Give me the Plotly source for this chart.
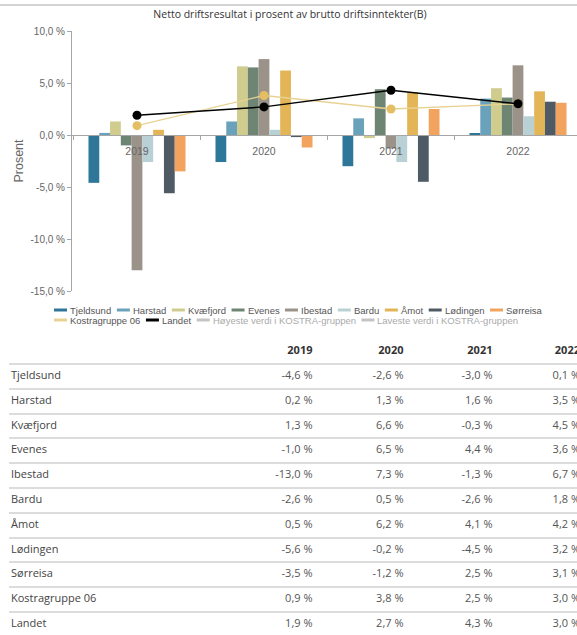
import plotly.graph_objects as go

W, H = 577, 635

# ---- data -------------------------------------------------------------
years = ["2019", "2020", "2021", "2022"]

tjeldsund = [-4.6, -2.6, -3.0, 0.1]
harstad = [0.2, 1.3, 1.6, 3.5]
kvaefjord = [1.3, 6.6, -0.3, 4.5]
evenes = [-1.0, 6.5, 4.4, 3.6]
ibestad = [-13.0, 7.3, -1.3, 6.7]
bardu = [-2.6, 0.5, -2.6, 1.8]
amot = [0.5, 6.2, 4.1, 4.2]
lodingen = [-5.6, -0.2, -4.5, 3.2]
sorreisa = [-3.5, -1.2, 2.5, 3.1]
kostragruppe_06 = [0.9, 3.8, 2.5, 3.0]
landet = [1.9, 2.7, 4.3, 3.0]

kommune_names = ["Tjeldsund", "Harstad", "Kvæfjord", "Evenes", "Ibestad",
                 "Bardu", "Åmot", "Lødingen", "Sørreisa"]
kommune_values = [tjeldsund, harstad, kvaefjord, evenes, ibestad,
                  bardu, amot, lodingen, sorreisa]
kommune_colors = ["#2e7798", "#6ba2bb", "#cfcc8e", "#6e8573", "#9b938a",
                  "#b9d0d4", "#e3b556", "#4e5b64", "#f2a45f"]

line_names = ["Kostragruppe 06", "Landet"]
line_values = [kostragruppe_06, landet]
line_colors = ["#e8d293", "#000000"]
marker_colors = ["#e4be62", "#000000"]

hidden_names = ["Høyeste verdi i KOSTRA-gruppen", "Laveste verdi i KOSTRA-gruppen"]

y_ticks = [10, 5, 0, -5, -10, -15]
y_tick_labels = ["10,0 %", "5,0 %", "0,0 %", "-5,0 %", "-10,0 %", "-15,0 %"]

title_text = "Netto driftsresultat i prosent av brutto driftsinntekter(B)"

# ---- helpers ----------------------------------------------------------
def px_x(x):
    return x / W


def px_y(y):
    return 1 - y / H


def fmt(v):
    return f"{v:.1f} %".replace(".", ",")


# Arial / Liberation Sans advance widths (per 1000 em)
_AW = {" ": 278, "-": 333, "A": 667, "B": 667, "E": 667, "H": 722, "I": 278,
       "K": 667, "L": 556, "O": 778, "R": 722, "S": 667, "T": 611, "Å": 667,
       "a": 556, "b": 556, "d": 556, "e": 556, "f": 278, "g": 556, "i": 222,
       "j": 222, "l": 222, "m": 833, "n": 556, "o": 556, "p": 556, "r": 333,
       "s": 500, "t": 278, "u": 556, "v": 500, "y": 500, "æ": 889, "ø": 611}


def text_width(s, size):
    return sum(_AW.get(c, 556) for c in s) / 1000 * size


CHART_FONT = "Liberation Sans, Arial, sans-serif"
TABLE_FONT = "Open Sans, sans-serif"

# ---- chart geometry ---------------------------------------------------
plot_left, plot_top, plot_bottom = 72, 31, 291
cat0_px, cat_step = 137, 127
y_min, y_max = -15, 10
y_dom = [px_y(plot_bottom), px_y(plot_top)]
x_range = [(plot_left - cat0_px) / cat_step, (W - cat0_px) / cat_step]
zero_pos = y_dom[0] + (0 - y_min) / (y_max - y_min) * (y_dom[1] - y_dom[0])

fig = go.Figure()

for name, vals, col in zip(kommune_names, kommune_values, kommune_colors):
    fig.add_trace(go.Bar(x=years, y=vals, name=name, marker_color=col,
                         marker_line_width=0, showlegend=False,
                         xaxis="x", yaxis="y"))

for name, vals, lc, mc in zip(line_names, line_values, line_colors, marker_colors):
    fig.add_trace(go.Scatter(x=years, y=vals, name=name, mode="lines+markers",
                             line=dict(color=lc, width=1.4),
                             marker=dict(color=mc, size=9),
                             showlegend=False, xaxis="x", yaxis="y"))

# ---- table ------------------------------------------------------------
row_names = kommune_names + line_names
row_values = kommune_values + line_values

# table columns are placed on a pixel-scaled axis (x2 = pixels from left)
col_right_px = [312.5, 403.5, 492.5, 580.0]   # right edge of each year column
row_px0, row_step = 351.5, 24.8               # centre of row k = row_px0 + k*row_step
table_left, label_left, table_top = 9, 11, 320

y2_range = [(H - row_px0) / row_step, (table_top - row_px0) / row_step]

fig.add_trace(go.Scatter(
    x=col_right_px, y=[0] * len(years), text=years, mode="text",
    textposition="middle left",
    textfont=dict(family=TABLE_FONT, size=11, color="#333333", weight="bold"),
    showlegend=False, hoverinfo="skip", xaxis="x2", yaxis="y2"))

fig.add_trace(go.Scatter(
    x=[label_left] * len(row_names), y=list(range(1, len(row_names) + 1)),
    text=row_names, mode="text", textposition="middle right",
    textfont=dict(family=TABLE_FONT, size=11, color="#444444"),
    showlegend=False, hoverinfo="skip", xaxis="x2", yaxis="y2"))

cell_x, cell_y, cell_t = [], [], []
for k, vals in enumerate(row_values, start=1):
    for xc, v in zip(col_right_px, vals):
        cell_x.append(xc)
        cell_y.append(k)
        cell_t.append(fmt(v))

fig.add_trace(go.Scatter(
    x=cell_x, y=cell_y, text=cell_t, mode="text", textposition="middle left",
    textfont=dict(family=TABLE_FONT, size=11, color="#555555"),
    showlegend=False, hoverinfo="skip", xaxis="x2", yaxis="y2"))

# ---- custom legend ----------------------------------------------------
LEG_SIZE, SYM_LEN, SYM_GAP, ITEM_GAP = 9.5, 13, 3, 5.7
legend_rows = [
    (310, [(n, c, False) for n, c in zip(kommune_names, kommune_colors)]),
    (320, [(line_names[0], line_colors[0], False), (line_names[1], line_colors[1], False)]
          + [(n, "#c4c4c4", True) for n in hidden_names]),
]
shapes, annotations = [], []
for y_px, items in legend_rows:
    x_px = 54
    for name, col, hidden in items:
        shapes.append(dict(type="line", xref="paper", yref="paper",
                           x0=px_x(x_px), x1=px_x(x_px + SYM_LEN),
                           y0=px_y(y_px), y1=px_y(y_px),
                           line=dict(color=col, width=3)))
        annotations.append(dict(text=name, xref="paper", yref="paper",
                                x=px_x(x_px + SYM_LEN + SYM_GAP), y=px_y(y_px),
                                xanchor="left", yanchor="middle", showarrow=False,
                                borderpad=0, borderwidth=0,
                                font=dict(family=CHART_FONT, size=LEG_SIZE,
                                          color="#aaaaaa" if hidden else "#555555")))
        x_px += SYM_LEN + SYM_GAP + text_width(name, LEG_SIZE) + ITEM_GAP

# top rule
shapes.append(dict(type="line", xref="paper", yref="paper", x0=0, x1=1,
                   y0=px_y(5), y1=px_y(5), line=dict(color="#aaaaaa", width=1)))

fig.update_layout(
    width=W, height=H,
    margin=dict(l=0, r=0, t=0, b=0),
    paper_bgcolor="white", plot_bgcolor="white",
    barmode="group", bargap=0.236, bargroupgap=0.0,
    showlegend=False,
    title=dict(text=title_text, x=290 / W, y=px_y(14), xanchor="center",
               yanchor="middle", xref="paper", yref="paper",
               font=dict(family=TABLE_FONT, size=10.5, color="#333333")),
    xaxis=dict(type="category", domain=[px_x(plot_left), 1], range=x_range,
               anchor="free", position=zero_pos,
               showline=True, linecolor="#a6a6a6", linewidth=1,
               ticks="outside", tickson="boundaries", ticklen=4, tickcolor="#a6a6a6",
               ticklabelstandoff=6,
               tickfont=dict(family=CHART_FONT, size=10.5, color="#666666"),
               showgrid=False, zeroline=False, automargin=False, fixedrange=True),
    yaxis=dict(domain=y_dom, range=[y_min, y_max], anchor="x",
               tickvals=y_ticks, ticktext=y_tick_labels,
               showline=True, linecolor="#a6a6a6", linewidth=1,
               ticks="outside", ticklen=4, tickcolor="#a6a6a6",
               tickfont=dict(family=CHART_FONT, size=10, color="#666666"),
               title=dict(text="Prosent", standoff=4,
                          font=dict(family=CHART_FONT, size=12.5, color="#666666")),
               showgrid=False, zeroline=False, automargin=False, fixedrange=True),
    xaxis2=dict(domain=[px_x(table_left), 1], range=[table_left, W], anchor="y2",
                showgrid=False, zeroline=False, showline=False,
                showticklabels=False, ticks="", fixedrange=True),
    yaxis2=dict(domain=[0, px_y(table_top)], range=y2_range, anchor="x2",
                tickvals=[k + 0.5 for k in range(len(row_names) + 1)],
                showgrid=True, gridcolor="#dcdcdc", gridwidth=1.5,
                zeroline=False, showline=False, showticklabels=False, ticks="",
                fixedrange=True),
    shapes=shapes,
    annotations=annotations,
)

fig.write_html("out.html")
